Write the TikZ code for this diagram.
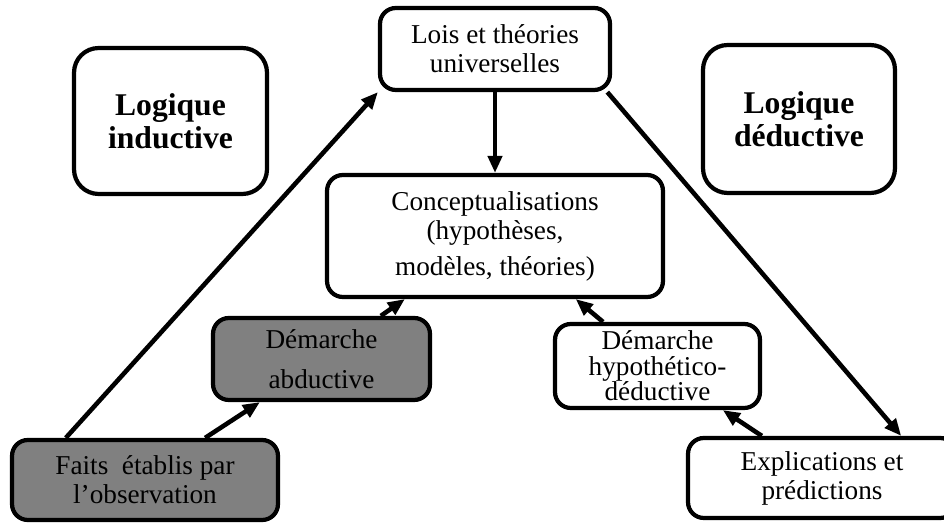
\documentclass[tikz,border=0pt]{standalone}
\usepackage{fontspec}
\setmainfont{Liberation Serif}
\usetikzlibrary{arrows.meta}

\definecolor{boxgrey}{RGB}{128,128,128}
\tikzset{
  cadre/.style={draw, line width=2.4pt, rounded corners=9pt, align=center, inner sep=0pt,
    font=\fontsize{15.5}{16.5}\selectfont},
  cadregris/.style={cadre, fill=boxgrey},
  logique/.style={draw, line width=2.4pt, rounded corners=14pt, align=center, inner sep=0pt,
    font=\fontsize{18}{19}\selectfont\bfseries},
  fleche/.style={line width=2.6pt, -{Triangle[length=0.34cm,width=0.28cm]}}
}

\begin{document}
\begin{tikzpicture}[x=0.02cm, y=-0.02cm]
\clip (0,0) rectangle (944,523);
\node[cadre, minimum width=4.6cm, minimum height=1.64cm] (lois) at (495,49) {Lois et théories\\universelles};
\node[cadre, minimum width=6.72cm, minimum height=2.44cm] (concept) at (495,236) {Conceptualisations\\(hypothèses,\\[4pt]modèles, théories)};
\node[cadregris, minimum width=4.34cm, minimum height=1.64cm] (abd) at (321.5,359) {Démarche\\[6pt]abductive};
\node[cadre, minimum width=4.1cm, minimum height=1.68cm, font=\fontsize{15.5}{14.5}\selectfont] (hd) at (657.5,366) {Démarche\\hypothético-\\déductive};
\node[cadregris, minimum width=5.32cm, minimum height=1.6cm] (faits) at (145,480) {Faits \ établis par\\l’observation};
\node[cadre, minimum width=5.36cm, minimum height=1.6cm] (expl) at (822,478) {Explications et\\prédictions};
\node[logique, minimum width=3.86cm, minimum height=2.92cm] (ind) at (170.5,121) {Logique\\inductive};
\node[logique, minimum width=3.84cm, minimum height=2.96cm] (ded) at (799,119) {Logique\\déductive};

\draw[fleche] (faits.152) -- (lois.south west);
\draw[fleche] (faits.35) -- (abd.215);
\draw[fleche] (abd.36) -- (concept.215);
\draw[fleche] (lois.south) -- (concept.north);
\draw[fleche] (lois.-21) -- (expl.28);
\draw[fleche] (hd.141) -- (concept.-38);
\draw[fleche] (expl.145) -- (hd.-34);
\end{tikzpicture}
\end{document}
